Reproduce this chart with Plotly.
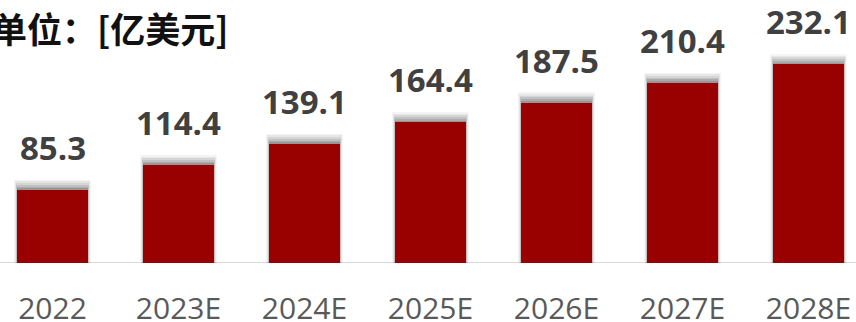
import plotly.graph_objects as go

categories = ["2022", "2023E", "2024E", "2025E", "2026E", "2027E", "2028E"]
values = [85.3, 114.4, 139.1, 164.4, 187.5, 210.4, 232.1]
labels = ["85.3", "114.4", "139.1", "164.4", "187.5", "210.4", "232.1"]
title_text = "单位：[亿美元]"

W, H = 856, 322
BAR_W = 0.556
xs = list(range(len(categories)))

fig = go.Figure()

# soft shadow around bar tops (layers of translucent grey)
for k, (dy, dw, op) in enumerate([(12, 0.05, 0.06), (10, 0.04, 0.08), (8, 0.03, 0.11),
                                   (6, 0.02, 0.14), (4, 0.012, 0.18), (2, 0.006, 0.22)]):
    fig.add_trace(go.Bar(
        x=xs, y=[v + dy for v in values], width=BAR_W + dw,
        marker=dict(color="rgb(80,80,80)", line=dict(width=0)), opacity=op,
        hoverinfo="skip", showlegend=False))

fig.add_trace(go.Bar(
    x=xs, y=values, width=BAR_W,
    marker=dict(color="#990000", line=dict(width=0)),
    showlegend=False))

for x, v, t in zip(xs, values, labels):
    fig.add_annotation(x=x, y=v, text=t, showarrow=False, yanchor="bottom",
                       yshift=18, font=dict(family="Open Sans", size=33, color="#404040", weight="bold"))

fig.add_annotation(xref="paper", yref="paper", x=-0.012, y=1.0, xanchor="left", yanchor="top",
                   text="<b>" + title_text + "</b>", showarrow=False,
                   font=dict(family="Noto Sans CJK SC", size=35, color="#111111"))

ppu = 126.0
x0 = -52.5 / ppu
x1 = (W - 52.5) / ppu
fig.update_layout(
    width=W, height=H, barmode="overlay", bargap=0,
    margin=dict(l=0, r=0, t=0, b=59, autoexpand=False),
    plot_bgcolor="white", paper_bgcolor="white",
    xaxis=dict(range=[x0, x1], tickmode="array", tickvals=xs, ticktext=categories,
               showgrid=False, zeroline=False, showline=False, automargin=False,
               ticks="outside", ticklen=19, tickcolor="rgba(0,0,0,0)",
               tickfont=dict(family="Open Sans", size=30, color="#595959")),
    yaxis=dict(range=[0, 263 / 0.856], visible=False, showgrid=False, zeroline=False,
               automargin=False),
    shapes=[dict(type="line", xref="paper", yref="y", x0=0, x1=1, y0=0, y1=0,
                 line=dict(color="#d9d9d9", width=2), layer="below")],
)

fig.write_html("out.html")
